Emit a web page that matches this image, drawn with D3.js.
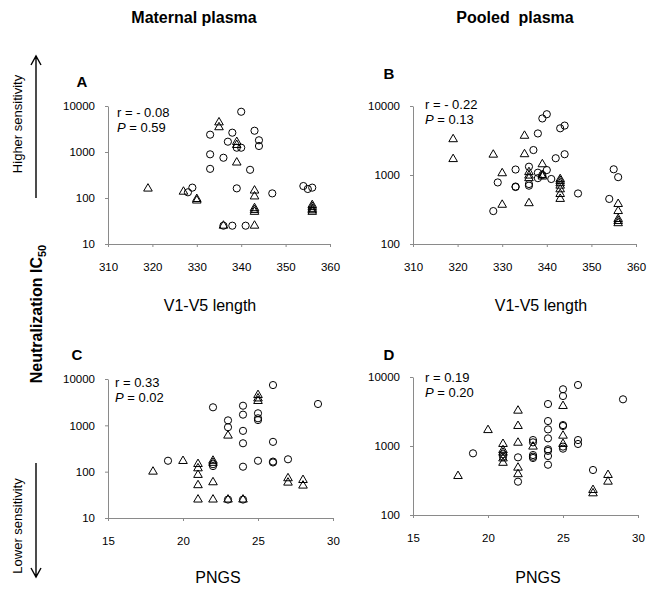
<!DOCTYPE html>
<html>
<head>
<meta charset="utf-8">
<script src="https://cdn.jsdelivr.net/npm/d3@7"></script>
<style>
  body { margin: 0; background: #fff; }
  text { font-family: Arial, "Liberation Sans", sans-serif; }
</style>
</head>
<body>
<div id="canvas"></div>
<script>
// values: [x, IC50]
let aCircles = [[328,133],[329,168],[333,2380],[333,890],[333,430],[336,750],[337,1675],[338,2630],
    [340,7500],[339,1240],[340,1240],[339,162],[342,410],[343,2900],[344,1800],[344,1350],[347,126],
    [336,25],[338,25],[341,25],[354,182],[355,157],[356,168]]
let aTriangles = [[319,160],[327,137],[330,95],[330,88],[335,4400],[335,3450],[339,1650],[339,1420],
    [339,590],[343,145],[343,108],[343,60],[343,55],[343,50],[336,25],[343,25],
    [356,70],[356,64],[356,58],[356,54],[356,50]]

let bCircles = [[328,300],[329,780],[333,1200],[333,680],[333,670],[336,1320],[336,740],[336,700],
    [337,2300],[338,4000],[338,1080],[338,900],[339,1000],[339,6600],[340,7600],[340,1180],[341,875],
    [342,1750],[343,4750],[344,5200],[344,2000],[347,540],[354,450],[355,1210],[356,930]]
let bTriangles = [[319,3300],[319,1700],[328,1970],[330,1060],[330,370],[335,3700],[335,2000],
    [336,1100],[336,980],[336,900],[336,390],[339,1430],[339,1000],[339,950],[343,870],[343,820],
    [343,760],[343,700],[343,620],[343,530],[343,450],[356,380],[356,300],[356,230],[356,215],[356,200]]

let cCircles = [[19,172],[22,2450],[22,145],[22,132],[23,1280],[23,910],[23,25],[24,2650],[24,1700],
    [24,760],[24,410],[24,128],[24,25],[25,1820],[25,1420],[25,1300],[25,172],[26,7400],[26,440],
    [26,165],[26,158],[27,185],[29,2890]]
let cTriangles = [[18,100],[20,170],[21,146],[21,118],[21,85],[21,51],[21,25],[22,172],[22,155],
    [22,59],[22,25],[23,600],[23,25],[24,25],[25,4500],[25,3800],[25,3350],[27,72],[27,58],[28,66],[28,50]]

let dCircles = [[19,783],[21,760],[21,700],[22,685],[22,304],[23,1220],[23,1130],[23,740],[23,700],
    [23,670],[24,4060],[24,2300],[24,1740],[24,1290],[24,895],[24,850],[24,716],[24,535],[25,6640],
    [25,5300],[25,2010],[25,1950],[25,980],[25,915],[26,7660],[26,1220],[26,1070],[27,449],[29,4750]]
let dTriangles = [[18,367],[20,1700],[21,1070],[21,870],[21,800],[21,660],[21,570],[22,3250],[22,1950],
    [22,1115],[22,485],[22,390],[23,980],[25,3800],[25,1410],[25,1070],[27,230],[27,206],[28,380],[28,304]]

let lengthTicks = [310, 320, 330, 340, 350, 360]
let pngsTicks = [15, 20, 25, 30]
let stats = [["- 0.08", "0.59"], ["- 0.22", "0.13"], ["0.33", "0.02"], ["0.19", "0.20"]]

let width = 652
let height = 591

let svg = d3.select("#canvas").append("svg")
    .attr("width", width)
    .attr("height", height)

// panel layout
let panels = [
    {letter: "A", circles: aCircles, triangles: aTriangles, xd: [310, 360], xr: [108, 330], xt: lengthTicks,
     yd: [10, 10000], yr: [244, 106], lx: 82, ly: 82, sx: 117, sy: 117, title: "V1-V5 length", tx: 210, ty: 311},
    {letter: "B", circles: bCircles, triangles: bTriangles, xd: [310, 360], xr: [413, 636], xt: lengthTicks,
     yd: [100, 10000], yr: [244, 106], lx: 389, ly: 74, sx: 425, sy: 109, title: "V1-V5 length", tx: 541, ty: 311},
    {letter: "C", circles: cCircles, triangles: cTriangles, xd: [15, 30], xr: [108, 333], xt: pngsTicks,
     yd: [10, 10000], yr: [518, 379], lx: 77, ly: 355, sx: 115, sy: 387, title: "PNGS", tx: 218, ty: 583},
    {letter: "D", circles: dCircles, triangles: dTriangles, xd: [15, 30], xr: [413, 638], xt: pngsTicks,
     yd: [100, 10000], yr: [515, 377], lx: 389, ly: 355, sx: 425, sy: 382, title: "PNGS", tx: 538, ty: 583}
]

panels.forEach((p, i) => drawPanel(p, stats[i]))

function drawPanel(p, st) {
    let x = d3.scaleLinear().domain(p.xd).range(p.xr)
    let y = d3.scaleLog().domain(p.yd).range(p.yr)
    let yTicks = [10, 100, 1000, 10000].filter(v => v >= p.yd[0])

    let g = svg.append("g")

    let xAxis = g.append("g")
        .attr("transform", "translate(0," + p.yr[0] + ")")
        .call(d3.axisBottom(x).tickValues(p.xt).tickFormat(d3.format("d"))
            .tickSizeInner(3).tickSizeOuter(0).tickPadding(16))
    let yAxis = g.append("g")
        .attr("transform", "translate(" + p.xr[0] + ",0)")
        .call(d3.axisLeft(y).tickValues(yTicks).tickFormat(d3.format("d"))
            .tickSizeInner(3).tickSizeOuter(0).tickPadding(10))

    ;[xAxis, yAxis].forEach(a => {
        a.select(".domain").attr("stroke", "#8a8a8a")
        a.selectAll(".tick line").attr("stroke", "#8a8a8a")
        a.selectAll("text").attr("font-size", 11.5).attr("fill", "#000")
            .attr("font-family", "Arial, 'Liberation Sans', sans-serif")
    })

    // markers
    g.append("g").selectAll("circle")
        .data(p.circles)
        .enter().append("circle")
            .attr("cx", d => x(d[0]))
            .attr("cy", d => y(d[1]))
            .attr("r", 3.6)
            .attr("fill", "none")
            .attr("stroke", "#000")
            .attr("stroke-width", 1)

    let tri = d3.symbol().type(d3.symbolTriangle).size(32)
    g.append("g").selectAll("path")
        .data(p.triangles)
        .enter().append("path")
            .attr("d", tri)
            .attr("transform", d => "translate(" + x(d[0]) + "," + y(d[1]) + ")")
            .attr("fill", "none")
            .attr("stroke", "#000")
            .attr("stroke-width", 1)

    // panel letter
    g.append("text")
        .attr("x", p.lx).attr("y", p.ly)
        .attr("text-anchor", "middle")
        .attr("dy", "0.35em")
        .attr("font-size", 15)
        .attr("font-weight", "bold")
        .text(p.letter)

    // r and P
    let s = g.append("text").attr("font-size", 13)
    s.append("tspan").attr("x", p.sx).attr("y", p.sy).text("r = " + st[0])
    let s2 = g.append("text").attr("font-size", 13)
        .attr("x", p.sx).attr("y", p.sy + 15)
    s2.append("tspan").attr("font-style", "italic").text("P")
    s2.append("tspan").text(" = " + st[1])

    // x axis title
    g.append("text")
        .attr("x", p.tx).attr("y", p.ty)
        .attr("text-anchor", "middle")
        .attr("font-size", 16)
        .text(p.title)
}

// column titles
svg.append("text")
    .attr("x", 194).attr("y", 23)
    .attr("text-anchor", "middle")
    .attr("font-size", 16).attr("font-weight", "bold")
    .text("Maternal plasma")
svg.append("text")
    .attr("x", 515).attr("y", 23)
    .attr("text-anchor", "middle")
    .attr("font-size", 16).attr("font-weight", "bold")
    .style("white-space", "pre")
    .text("Pooled  plasma")

// left side label and arrows
let side = svg.append("g")

let ic = side.append("text")
    .attr("transform", "translate(42,314) rotate(-90)")
    .attr("text-anchor", "middle")
    .attr("font-size", 16).attr("font-weight", "bold")
ic.append("tspan").text("Neutralization IC")
ic.append("tspan").attr("font-size", 11).attr("dy", 4).text("50")

side.append("text")
    .attr("transform", "translate(22,124) rotate(-90)")
    .attr("text-anchor", "middle")
    .attr("font-size", 13)
    .attr("font-family", "'Open Sans', sans-serif")
    .text("Higher sensitivity")
side.append("text")
    .attr("transform", "translate(22,526) rotate(-90)")
    .attr("text-anchor", "middle")
    .attr("font-size", 13)
    .attr("font-family", "'Open Sans', sans-serif")
    .text("Lower sensitivity")

// up arrow
side.append("path")
    .attr("d", "M36,198 L36,56 M31,65 L36,56 L41,65")
    .attr("fill", "none").attr("stroke", "#000").attr("stroke-width", 1.4)
// down arrow
side.append("path")
    .attr("d", "M36,463 L36,577 M31,568 L36,577 L41,568")
    .attr("fill", "none").attr("stroke", "#000").attr("stroke-width", 1.4)
</script>
</body>
</html>
